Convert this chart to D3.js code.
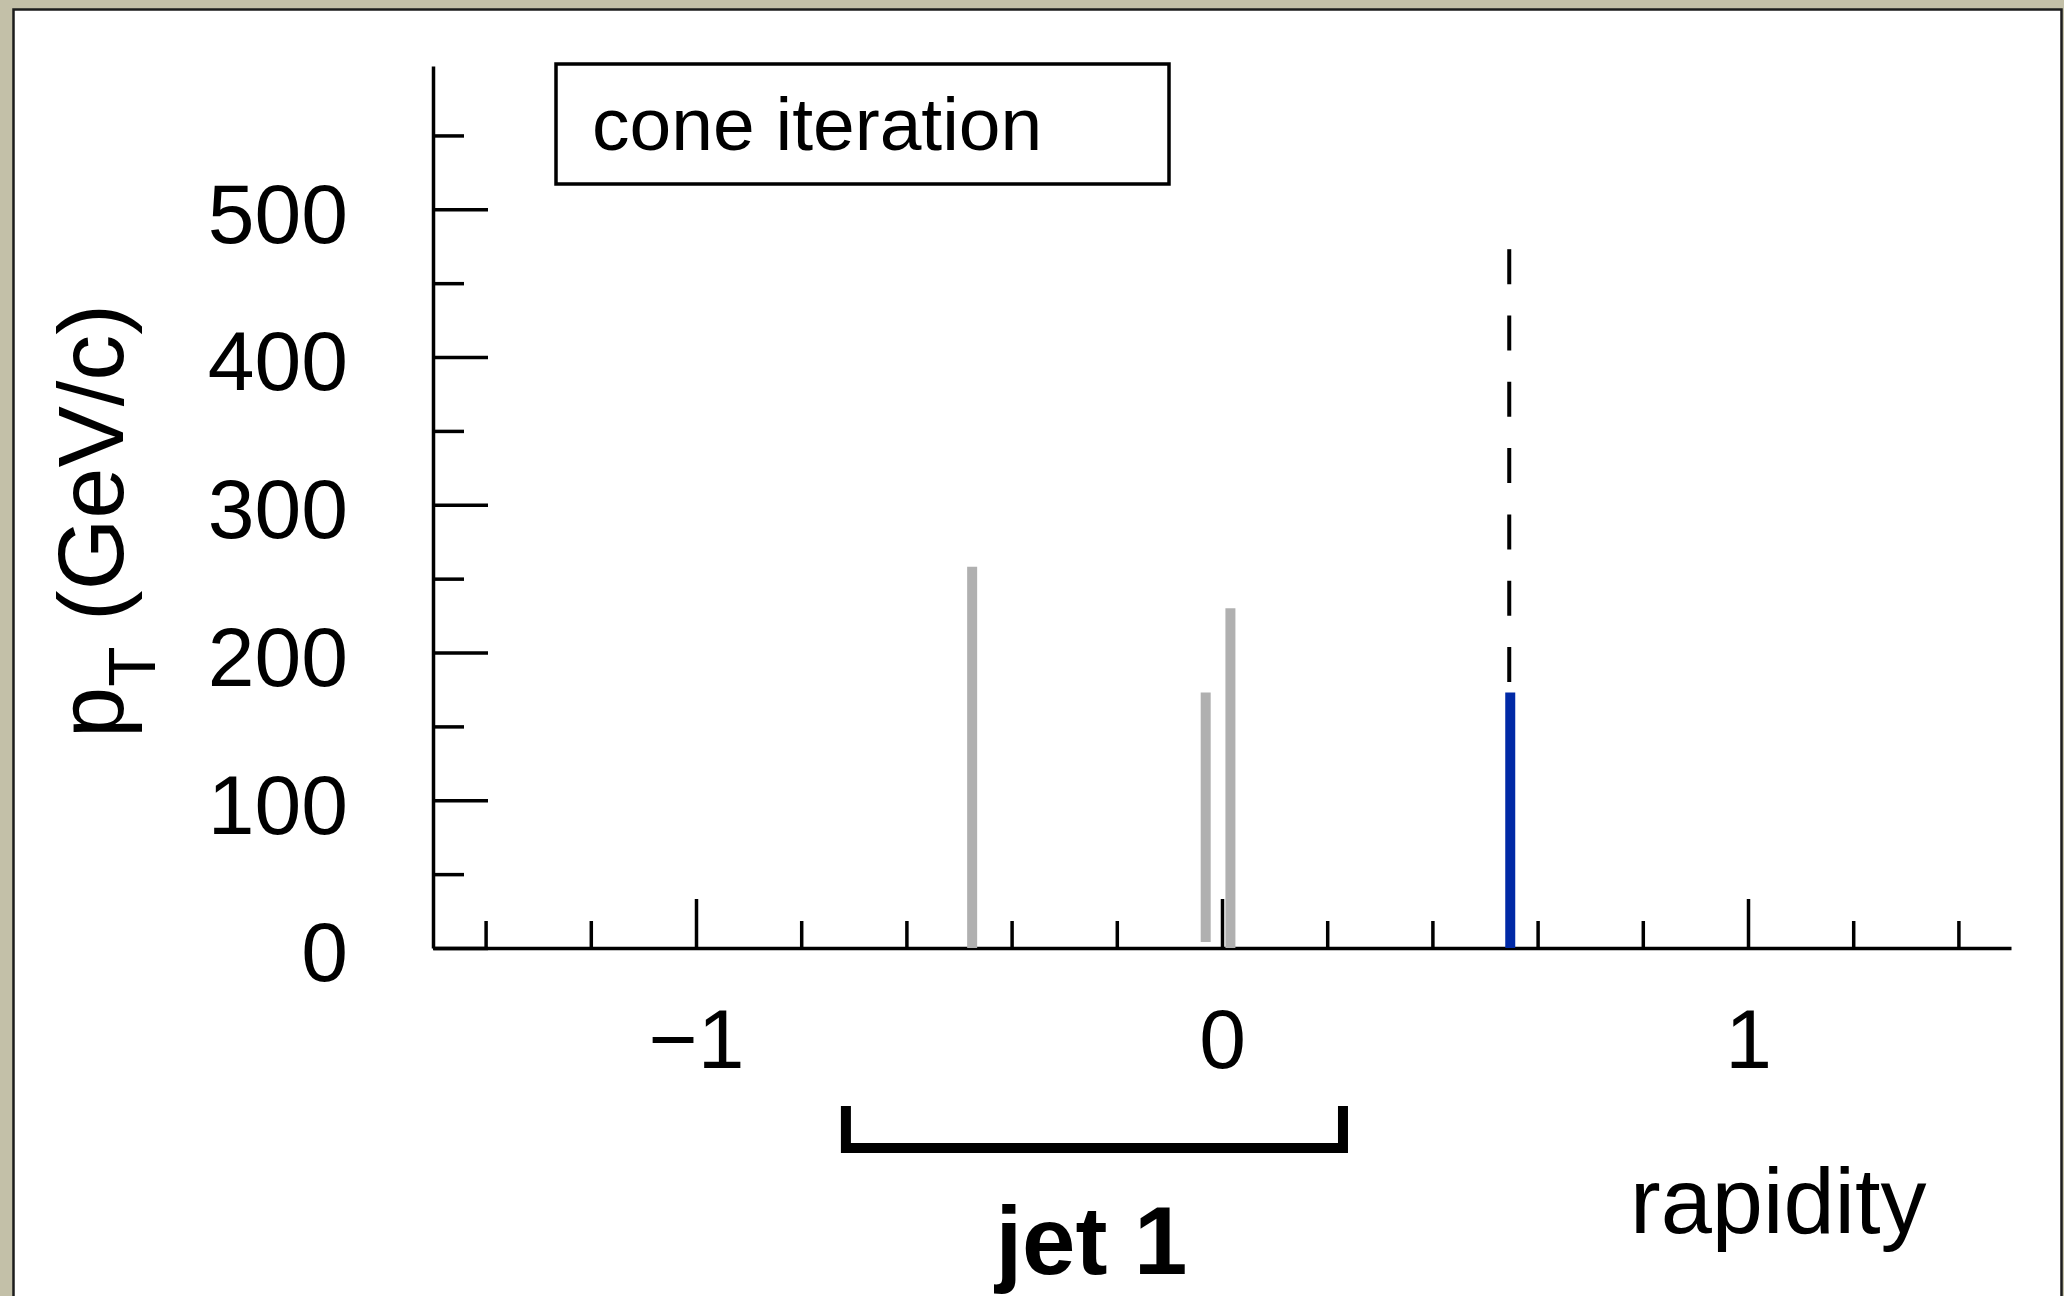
<!DOCTYPE html>
<html>
<head>
<meta charset="utf-8">
<script src="https://cdn.jsdelivr.net/npm/d3@7/dist/d3.min.js"></script>
<style>
  html, body { margin: 0; padding: 0; background: #c3c0a8; }
  svg { display: block; }
  text { font-family: "Liberation Sans", Arial, Helvetica, sans-serif; fill: #000; }
</style>
</head>
<body>
<script>
// Particles of the event: rapidity, pT (GeV/c) and the pT where each stick starts
const particleRapidity = [-0.475, -0.031, 0.016];
const particlePt       = [258, 173, 230];
const particleBase     = [0, 4, 0];

// Particle currently being tested by the cone iteration
const testRapidity = [0.548];
const testPt       = [173];
// Dashed continuation above the tested particle
const dashTopPt    = [473];

// Extent of the jet found so far, in rapidity
const jetRange = [-0.715, 0.23];
const jetLabel = "jet 1";

// Axes
const xDomain = [-1.5, 1.5];
const yDomain = [0, 597];
const xMajorTicks = [-1, 0, 1];
const xMinorTicks = [-1.4, -1.2, -0.8, -0.6, -0.4, -0.2, 0.2, 0.4, 0.6, 0.8, 1.2, 1.4];
const yMajorTicks = [0, 100, 200, 300, 400, 500];
const yMinorTicks = [50, 150, 250, 350, 450, 550];
const xTitle = "rapidity";
const legendText = "cone iteration";

const W = 2064, H = 1296;
const svg = d3.select("body").append("svg").attr("width", W).attr("height", H);

// White panel with dark edge over the beige backdrop
svg.append("rect").attr("x", 0).attr("y", 0).attr("width", W).attr("height", H).attr("fill", "#c3c0a8");
svg.append("rect")
  .attr("x", 13.5).attr("y", 9.5).attr("width", 2048).attr("height", 1400)
  .attr("fill", "#fff").attr("stroke", "#1c1c1c").attr("stroke-width", 2.5);

const x = d3.scaleLinear().domain(xDomain).range([433, 2011]);
const y = d3.scaleLinear().domain(yDomain).range([948, 66]);

const axisStroke = 3.5;
function styleAxis(g) {
  g.selectAll("path.domain").attr("stroke", "#000").attr("stroke-width", axisStroke);
  g.selectAll(".tick line").attr("stroke", "#000").attr("stroke-width", axisStroke);
  g.selectAll(".tick text").attr("fill", "#000");
}

// Y axis: major ticks with labels, minor ticks without
const yAxisG = svg.append("g").attr("transform", "translate(433,0)");
yAxisG.call(d3.axisLeft(y).tickValues(yMajorTicks).tickSizeInner(-55).tickSizeOuter(0).tickPadding(85).tickFormat(d3.format("d")))
  .attr("font-size", 84).attr("font-family", null);
yAxisG.selectAll(".tick text").attr("dy", "0.39em");
styleAxis(yAxisG);
const yMinorG = svg.append("g").attr("transform", "translate(433,0)");
yMinorG.call(d3.axisLeft(y).tickValues(yMinorTicks).tickSizeInner(-31).tickSizeOuter(0).tickFormat(""));
yMinorG.select("path.domain").remove();
styleAxis(yMinorG);

// X axis
const xAxisG = svg.append("g").attr("transform", "translate(0,948)");
xAxisG.call(d3.axisBottom(x).tickValues(xMajorTicks).tickSizeInner(-49).tickSizeOuter(0).tickPadding(60).tickFormat(d3.format("d")))
  .attr("font-size", 84).attr("font-family", null);
styleAxis(xAxisG);
const xMinorG = svg.append("g").attr("transform", "translate(0,948)");
xMinorG.call(d3.axisBottom(x).tickValues(xMinorTicks).tickSizeInner(-27).tickSizeOuter(0).tickFormat(""));
xMinorG.select("path.domain").remove();
styleAxis(xMinorG);

// Axis titles
const yTitle = svg.append("text")
  .attr("transform", "translate(123,521) rotate(-90)")
  .attr("text-anchor", "middle")
  .attr("font-size", 92);
yTitle.append("tspan").text("p");
yTitle.append("tspan").attr("font-size", 66).attr("dy", 32).text("T");
yTitle.append("tspan").attr("dy", -32).text(" (GeV/c)");

svg.append("text")
  .attr("x", 1630).attr("y", 1233)
  .attr("font-size", 92)
  .text(xTitle);

// Particles already in the jet
svg.append("g").selectAll("line")
  .data(particleRapidity.map((r, i) => ({ r, pt: particlePt[i], base: particleBase[i] })))
  .join("line")
  .attr("x1", d => x(d.r)).attr("x2", d => x(d.r))
  .attr("y1", d => y(d.base)).attr("y2", d => y(d.pt))
  .attr("stroke", "#b0b0b0").attr("stroke-width", 10);

// Dashed marker above the tested particle
svg.append("g").selectAll("line")
  .data(testRapidity.map((r, i) => ({ r, pt: testPt[i], top: dashTopPt[i] })))
  .join("line")
  .attr("x1", d => x(d.r) - 1).attr("x2", d => x(d.r) - 1)
  .attr("y1", d => y(d.top)).attr("y2", d => y(d.pt))
  .attr("stroke", "#000").attr("stroke-width", 4)
  .attr("stroke-dasharray", "35,31.3");

// Tested particle
svg.append("g").selectAll("line")
  .data(testRapidity.map((r, i) => ({ r, pt: testPt[i] })))
  .join("line")
  .attr("x1", d => x(d.r)).attr("x2", d => x(d.r))
  .attr("y1", y(0)).attr("y2", d => y(d.pt))
  .attr("stroke", "#0029a6").attr("stroke-width", 10);

// Legend box
svg.append("rect")
  .attr("x", 556).attr("y", 64).attr("width", 613).attr("height", 120)
  .attr("fill", "#fff").attr("stroke", "#000").attr("stroke-width", 3.5);
svg.append("text")
  .attr("x", 592).attr("y", 150)
  .attr("font-size", 75)
  .text(legendText);

// Jet bracket and label
const bx0 = x(jetRange[0]), bx1 = x(jetRange[1]);
svg.append("path")
  .attr("d", `M${bx0},1106 V1148 H${bx1} V1106`)
  .attr("fill", "none").attr("stroke", "#000").attr("stroke-width", 10)
  .attr("stroke-linejoin", "miter").attr("stroke-linecap", "butt");
svg.append("text")
  .attr("x", (bx0 + bx1) / 2 - 3).attr("y", 1274)
  .attr("text-anchor", "middle")
  .attr("font-size", 96).attr("font-weight", "bold")
  .text(jetLabel);
</script>
</body>
</html>
